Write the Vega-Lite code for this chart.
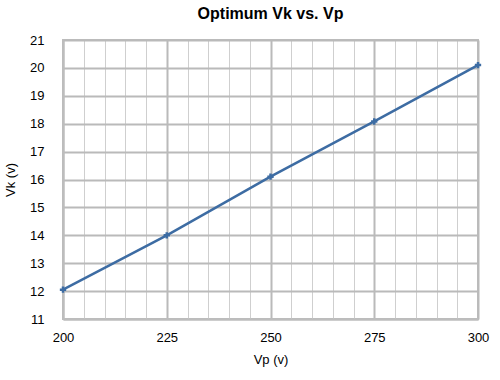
{
  "$schema": "https://vega.github.io/schema/vega-lite/v6.json",
  "width": 415,
  "height": 279,
  "autosize": {"type": "none"},
  "padding": {"left": 63, "top": 40, "right": 22, "bottom": 61},
  "background": "white",
  "title": {"text": "Optimum Vk vs. Vp", "font": "Liberation Sans", "fontSize": 16, "fontWeight": "bold", "color": "black", "offset": 12, "anchor": "middle"},
  "config": {
    "view": {"stroke": "#bdbdbd", "strokeWidth": 2},
    "axis": {"labelFont": "Liberation Sans", "labelFontSize": 13, "labelColor": "black", "titleFont": "Liberation Sans", "titleFontSize": 13, "titleFontWeight": "normal", "titleColor": "black", "ticks": false, "domainColor": "#bdbdbd", "domainWidth": 2}
  },
  "data": {"values": [
    {"vp": 200, "vk": 12.05},
    {"vp": 225, "vk": 14.0},
    {"vp": 250, "vk": 16.1},
    {"vp": 275, "vk": 18.08},
    {"vp": 300, "vk": 20.1}
  ]},
  "encoding": {
    "x": {"field": "vp", "type": "quantitative", "scale": {"domain": [200, 300], "nice": false, "zero": false},
      "axis": {"title": "Vp (v)", "titleY": 34, "values": [200,205,210,215,220,225,230,235,240,245,250,255,260,265,270,275,280,285,290,295,300],
        "labelExpr": "datum.value % 25 === 0 ? datum.label : ''", "labelPadding": 12, "labelFlush": false,
        "gridColor": {"condition": {"test": "datum.value % 25 === 0", "value": "#bababa"}, "value": "#cfcfcf"},
        "gridWidth": {"condition": {"test": "datum.value % 25 === 0", "value": 2}, "value": 1}}},
    "y": {"field": "vk", "type": "quantitative", "scale": {"domain": [11, 21], "nice": false, "zero": false},
      "axis": {"title": "Vk (v)", "titleX": -46, "format": "d", "values": [11,11.5,12,12.5,13,13.5,14,14.5,15,15.5,16,16.5,17,17.5,18,18.5,19,19.5,20,20.5,21],
        "labelExpr": "datum.value % 1 === 0 ? datum.label : ''", "labelPadding": 19,
        "gridColor": {"condition": {"test": "datum.value % 1 === 0", "value": "#bababa"}, "value": "#cfcfcf"},
        "gridWidth": {"condition": {"test": "datum.value % 1 === 0", "value": 2}, "value": 1}}}
  },
  "layer": [
    {"mark": {"type": "line", "color": "#3d6ca3", "strokeWidth": 2.5}},
    {"mark": {"type": "point", "shape": "M-1,0H1M0,-1V1", "size": 40, "stroke": "#3d6ca3", "strokeWidth": 2.5, "filled": false, "opacity": 1}}
  ]
}
